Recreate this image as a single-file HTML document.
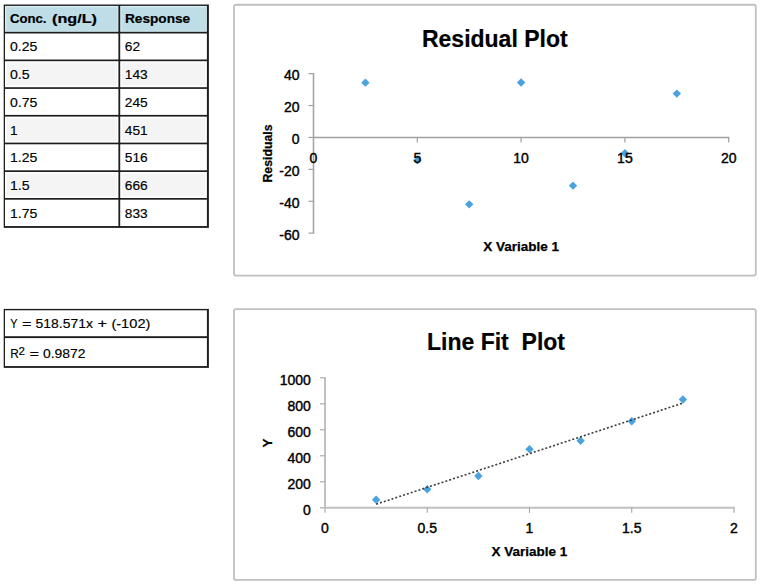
<!DOCTYPE html>
<html><head><meta charset="utf-8"><title>Calibration</title>
<style>
html,body{margin:0;padding:0;background:#fff;}
svg{display:block;}
text{font-family:"Liberation Sans", sans-serif;}
.t{font-size:12.3px;fill:#000;stroke:#000;stroke-width:0.15px;}
.tb{font-size:12.3px;font-weight:bold;fill:#000;stroke:#000;stroke-width:0.2px;}
.ax{font-size:14px;fill:#000;stroke:#000;stroke-width:0.4px;}
.axb{font-size:13.5px;font-weight:bold;fill:#000;stroke:#000;stroke-width:0.25px;}
.ttl{font-size:23px;font-weight:bold;fill:#000;stroke:#000;stroke-width:0.2px;}
</style></head><body>
<svg width="760" height="584" viewBox="0 0 760 584">
<rect x="0" y="0" width="760" height="584" fill="#fff"/>
<g id="table1">
<rect x="3.70" y="4.50" width="205.20" height="223.40" fill="#1e1e1e"/>
<rect x="5.00" y="5.90" width="113.40" height="25.90" fill="#d6ebf1"/>
<rect x="6.50" y="7.40" width="110.90" height="23.40" fill="#bedde6"/>
<rect x="120.20" y="5.90" width="86.70" height="25.90" fill="#d6ebf1"/>
<rect x="121.70" y="7.40" width="84.20" height="23.40" fill="#bedde6"/>
<rect x="5.00" y="33.50" width="113.40" height="26.00" fill="#fff"/>
<rect x="120.20" y="33.50" width="86.70" height="26.00" fill="#fff"/>
<rect x="5.00" y="61.20" width="113.40" height="26.00" fill="#fff"/>
<rect x="6.60" y="62.80" width="110.20" height="22.80" fill="#f4f4f4"/>
<rect x="120.20" y="61.20" width="86.70" height="26.00" fill="#fff"/>
<rect x="121.80" y="62.80" width="83.50" height="22.80" fill="#f4f4f4"/>
<rect x="5.00" y="88.90" width="113.40" height="26.00" fill="#fff"/>
<rect x="120.20" y="88.90" width="86.70" height="26.00" fill="#fff"/>
<rect x="5.00" y="116.60" width="113.40" height="26.00" fill="#fff"/>
<rect x="6.60" y="118.20" width="110.20" height="22.80" fill="#f4f4f4"/>
<rect x="120.20" y="116.60" width="86.70" height="26.00" fill="#fff"/>
<rect x="121.80" y="118.20" width="83.50" height="22.80" fill="#f4f4f4"/>
<rect x="5.00" y="144.30" width="113.40" height="26.00" fill="#fff"/>
<rect x="120.20" y="144.30" width="86.70" height="26.00" fill="#fff"/>
<rect x="5.00" y="172.00" width="113.40" height="26.00" fill="#fff"/>
<rect x="6.60" y="173.60" width="110.20" height="22.80" fill="#f4f4f4"/>
<rect x="120.20" y="172.00" width="86.70" height="26.00" fill="#fff"/>
<rect x="121.80" y="173.60" width="83.50" height="22.80" fill="#f4f4f4"/>
<rect x="5.00" y="199.70" width="113.40" height="26.35" fill="#fff"/>
<rect x="120.20" y="199.70" width="86.70" height="26.35" fill="#fff"/>
<text class="tb" x="9.9" y="23.10" textLength="36.6" lengthAdjust="spacingAndGlyphs">Conc.</text>
<text class="tb" x="52" y="23.10" textLength="45" lengthAdjust="spacingAndGlyphs">(ng/L)</text>
<text class="tb" x="125" y="23.10" textLength="65.2" lengthAdjust="spacingAndGlyphs">Response</text>
<text class="t" x="10" y="51.40" textLength="27.26" lengthAdjust="spacingAndGlyphs">0.25</text>
<text class="t" x="124.8" y="51.40" textLength="15.26" lengthAdjust="spacingAndGlyphs">62</text>
<text class="t" x="10" y="79.10" textLength="19.63" lengthAdjust="spacingAndGlyphs">0.5</text>
<text class="t" x="124.8" y="79.10" textLength="22.89" lengthAdjust="spacingAndGlyphs">143</text>
<text class="t" x="10" y="106.80" textLength="27.26" lengthAdjust="spacingAndGlyphs">0.75</text>
<text class="t" x="124.8" y="106.80" textLength="22.89" lengthAdjust="spacingAndGlyphs">245</text>
<text class="t" x="10" y="134.50" textLength="7.63" lengthAdjust="spacingAndGlyphs">1</text>
<text class="t" x="124.8" y="134.50" textLength="22.89" lengthAdjust="spacingAndGlyphs">451</text>
<text class="t" x="10" y="162.20" textLength="27.26" lengthAdjust="spacingAndGlyphs">1.25</text>
<text class="t" x="124.8" y="162.20" textLength="22.89" lengthAdjust="spacingAndGlyphs">516</text>
<text class="t" x="10" y="189.90" textLength="19.63" lengthAdjust="spacingAndGlyphs">1.5</text>
<text class="t" x="124.8" y="189.90" textLength="22.89" lengthAdjust="spacingAndGlyphs">666</text>
<text class="t" x="10" y="217.60" textLength="27.26" lengthAdjust="spacingAndGlyphs">1.75</text>
<text class="t" x="124.8" y="217.60" textLength="22.89" lengthAdjust="spacingAndGlyphs">833</text>
</g>
<g id="table2">
<rect x="3.70" y="308.90" width="205.20" height="59.00" fill="#1e1e1e"/>
<rect x="5.00" y="310.30" width="201.90" height="25.90" fill="#fff"/>
<rect x="5.00" y="338.10" width="201.90" height="27.95" fill="#fff"/>
<text class="t" x="10.20" y="327.9" textLength="7.20" lengthAdjust="spacingAndGlyphs">Y</text>
<text class="t" x="22.10" y="327.9" textLength="9.55" lengthAdjust="spacingAndGlyphs">=</text>
<text class="t" x="35.64" y="327.9" textLength="57.25" lengthAdjust="spacingAndGlyphs">518.571x</text>
<text class="t" x="97.60" y="327.9" textLength="9.55" lengthAdjust="spacingAndGlyphs">+</text>
<text class="t" x="111.40" y="327.9" textLength="39.00" lengthAdjust="spacingAndGlyphs">(-102)</text>
<text class="t" x="10.20" y="357.7" textLength="8.60" lengthAdjust="spacingAndGlyphs">R</text>
<text class="t" x="18.40" y="354.6" textLength="6.40" lengthAdjust="spacingAndGlyphs" style="font-size:10px">2</text>
<text class="t" x="29.40" y="357.7" textLength="9.55" lengthAdjust="spacingAndGlyphs">=</text>
<text class="t" x="42.96" y="357.7" textLength="42.52" lengthAdjust="spacingAndGlyphs">0.9872</text>
</g>
<g id="chart1">
<rect x="234" y="4.75" width="521.8" height="270.85" rx="2" ry="2" fill="#fff" stroke="#c0c0c0" stroke-width="1.8"/>
<text class="ttl" x="494.8" y="46.6" text-anchor="middle">Residual Plot</text>
<line x1="313.5" y1="73.05" x2="313.5" y2="233.75" stroke="#a6a6a6" stroke-width="1.6"/>
<line x1="313.5" y1="137.45" x2="729.30" y2="137.45" stroke="#a0a0a0" stroke-width="1.4"/>
<line x1="308.5" y1="73.65" x2="313.5" y2="73.65" stroke="#a0a0a0" stroke-width="1.2"/>
<line x1="308.5" y1="105.55" x2="313.5" y2="105.55" stroke="#a0a0a0" stroke-width="1.2"/>
<line x1="308.5" y1="137.45" x2="313.5" y2="137.45" stroke="#a0a0a0" stroke-width="1.2"/>
<line x1="308.5" y1="169.35" x2="313.5" y2="169.35" stroke="#a0a0a0" stroke-width="1.2"/>
<line x1="308.5" y1="201.25" x2="313.5" y2="201.25" stroke="#a0a0a0" stroke-width="1.2"/>
<line x1="308.5" y1="233.15" x2="313.5" y2="233.15" stroke="#a0a0a0" stroke-width="1.2"/>
<line x1="417.30" y1="137.45" x2="417.30" y2="142.45" stroke="#a0a0a0" stroke-width="1.2"/>
<line x1="521.10" y1="137.45" x2="521.10" y2="142.45" stroke="#a0a0a0" stroke-width="1.2"/>
<line x1="624.90" y1="137.45" x2="624.90" y2="142.45" stroke="#a0a0a0" stroke-width="1.2"/>
<line x1="728.70" y1="137.45" x2="728.70" y2="142.45" stroke="#a0a0a0" stroke-width="1.2"/>
<path d="M365.40 78.45L369.60 82.65L365.40 86.85L361.20 82.65Z" fill="#4aa3df"/>
<path d="M417.30 156.04L421.50 160.24L417.30 164.44L413.10 160.24Z" fill="#4aa3df"/>
<path d="M469.20 200.13L473.40 204.33L469.20 208.53L465.00 204.33Z" fill="#4aa3df"/>
<path d="M521.10 78.33L525.30 82.53L521.10 86.73L516.90 82.53Z" fill="#4aa3df"/>
<path d="M573.00 181.43L577.20 185.63L573.00 189.83L568.80 185.63Z" fill="#4aa3df"/>
<path d="M624.90 148.98L629.10 153.18L624.90 157.38L620.70 153.18Z" fill="#4aa3df"/>
<path d="M676.80 89.39L681.00 93.59L676.80 97.79L672.60 93.59Z" fill="#4aa3df"/>
<text class="ax" x="299.6" y="80.25" text-anchor="end">40</text>
<text class="ax" x="299.6" y="112.15" text-anchor="end">20</text>
<text class="ax" x="299.6" y="144.05" text-anchor="end">0</text>
<text class="ax" x="299.6" y="175.95" text-anchor="end">-20</text>
<text class="ax" x="299.6" y="207.85" text-anchor="end">-40</text>
<text class="ax" x="299.6" y="239.75" text-anchor="end">-60</text>
<text class="ax" x="313.50" y="163.3" text-anchor="middle">0</text>
<text class="ax" x="417.30" y="163.3" text-anchor="middle">5</text>
<text class="ax" x="521.10" y="163.3" text-anchor="middle">10</text>
<text class="ax" x="624.90" y="163.3" text-anchor="middle">15</text>
<text class="ax" x="728.70" y="163.3" text-anchor="middle">20</text>
<text class="axb" x="521.2" y="250.7" text-anchor="middle">X Variable 1</text>
<text class="axb" transform="translate(271.5,153.5) rotate(-90)" text-anchor="middle" textLength="58" lengthAdjust="spacingAndGlyphs">Residuals</text>
</g>
<g id="chart2">
<rect x="234" y="309.2" width="521.8" height="270.7" rx="2" ry="2" fill="#fff" stroke="#c0c0c0" stroke-width="1.8"/>
<text class="ttl" x="496" y="349.7" text-anchor="middle" xml:space="preserve">Line Fit  Plot</text>
<line x1="325.0" y1="377.20" x2="325.0" y2="507.8" stroke="#c0c0c0" stroke-width="2"/>
<line x1="325.0" y1="507.8" x2="325.0" y2="512.8" stroke="#a8a8a8" stroke-width="1.2"/>
<line x1="320.0" y1="507.8" x2="325.0" y2="507.8" stroke="#a8a8a8" stroke-width="1.2"/>
<line x1="324.0" y1="507.8" x2="734.60" y2="507.8" stroke="#c0c0c0" stroke-width="2"/>
<line x1="320.0" y1="377.80" x2="325.0" y2="377.80" stroke="#a4a4a4" stroke-width="1.1"/>
<text class="ax" x="310.8" y="384.90" text-anchor="end">1000</text>
<line x1="320.0" y1="403.80" x2="325.0" y2="403.80" stroke="#a4a4a4" stroke-width="1.1"/>
<text class="ax" x="310.8" y="410.90" text-anchor="end">800</text>
<line x1="320.0" y1="429.80" x2="325.0" y2="429.80" stroke="#a4a4a4" stroke-width="1.1"/>
<text class="ax" x="310.8" y="436.90" text-anchor="end">600</text>
<line x1="320.0" y1="455.80" x2="325.0" y2="455.80" stroke="#a4a4a4" stroke-width="1.1"/>
<text class="ax" x="310.8" y="462.90" text-anchor="end">400</text>
<line x1="320.0" y1="481.80" x2="325.0" y2="481.80" stroke="#a4a4a4" stroke-width="1.1"/>
<text class="ax" x="310.8" y="488.90" text-anchor="end">200</text>
<text class="ax" x="310.8" y="514.90" text-anchor="end">0</text>
<text class="ax" x="325.00" y="533.1" text-anchor="middle">0</text>
<line x1="427.25" y1="507.8" x2="427.25" y2="512.8" stroke="#a4a4a4" stroke-width="1.1"/>
<text class="ax" x="427.25" y="533.1" text-anchor="middle">0.5</text>
<line x1="529.50" y1="507.8" x2="529.50" y2="512.8" stroke="#a4a4a4" stroke-width="1.1"/>
<text class="ax" x="529.50" y="533.1" text-anchor="middle">1</text>
<line x1="631.75" y1="507.8" x2="631.75" y2="512.8" stroke="#a4a4a4" stroke-width="1.1"/>
<text class="ax" x="631.75" y="533.1" text-anchor="middle">1.5</text>
<line x1="734.00" y1="507.8" x2="734.00" y2="512.8" stroke="#a4a4a4" stroke-width="1.1"/>
<text class="ax" x="734.00" y="533.1" text-anchor="middle">2</text>
<path d="M376.12 495.54L380.32 499.74L376.12 503.94L371.93 499.74Z" fill="#4aa3df"/>
<path d="M427.25 485.01L431.45 489.21L427.25 493.41L423.05 489.21Z" fill="#4aa3df"/>
<path d="M478.38 471.75L482.57 475.95L478.38 480.15L474.18 475.95Z" fill="#4aa3df"/>
<path d="M529.50 444.97L533.70 449.17L529.50 453.37L525.30 449.17Z" fill="#4aa3df"/>
<path d="M580.62 436.52L584.83 440.72L580.62 444.92L576.42 440.72Z" fill="#4aa3df"/>
<path d="M631.75 417.02L635.95 421.22L631.75 425.42L627.55 421.22Z" fill="#4aa3df"/>
<path d="M682.88 395.31L687.08 399.51L682.88 403.71L678.67 399.51Z" fill="#4aa3df"/>
<line x1="376.12" y1="504.21" x2="682.88" y2="403.09" stroke="#3c3c3c" stroke-width="1.6" stroke-dasharray="2 2.05"/>
<text class="axb" x="529.4" y="556" text-anchor="middle">X Variable 1</text>
<text class="axb" transform="translate(272.3,443.1) rotate(-90)" text-anchor="middle">Y</text>
</g>
</svg>
</body></html>
